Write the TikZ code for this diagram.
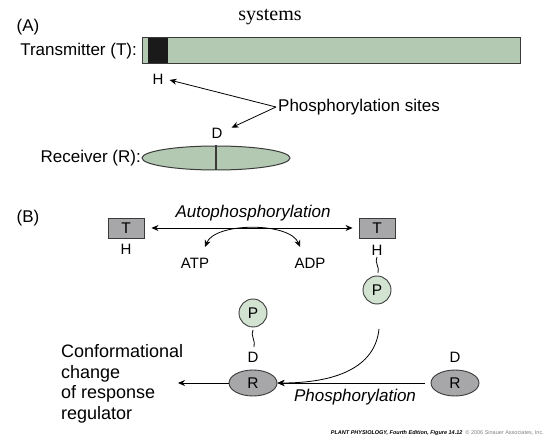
\documentclass[tikz,border=0pt]{standalone}
\usepackage{fontspec}
\setmainfont{Liberation Serif}
\setsansfont{Liberation Sans}
\usetikzlibrary{arrows.meta,shapes.geometric}
\definecolor{barfill}{HTML}{B3C9B2}
\definecolor{pgreen}{HTML}{D2E3D1}
\definecolor{tgray}{HTML}{A7A7A9}
\definecolor{edge}{HTML}{3A3A3A}
\definecolor{darkdom}{HTML}{1A1A1A}
\begin{document}
\begin{tikzpicture}[x=1pt,y=-1pt,
  >={Stealth[length=7pt,width=6pt]},
  lbl/.style={font=\sffamily\fontsize{17}{20}\selectfont, inner sep=0pt},
  small/.style={font=\sffamily\fontsize{15}{17}\selectfont, inner sep=0pt},
  ital/.style={font=\sffamily\itshape\fontsize{17}{20}\selectfont, inner sep=0pt},
  tbox/.style={draw=edge, fill=tgray, minimum width=36pt, minimum height=20pt, inner sep=0pt, line width=0.9pt, font=\sffamily\fontsize{15.5}{17}\selectfont},
  rell/.style={ellipse, draw=edge, fill=tgray, minimum width=48pt, minimum height=26pt, inner sep=0pt, line width=0.9pt, font=\sffamily\fontsize{15.5}{17}\selectfont},
  pcirc/.style={circle, draw=edge, fill=pgreen, minimum size=28pt, inner sep=0pt, line width=0.9pt, font=\sffamily\fontsize{15.5}{17}\selectfont},
  conn/.style={line width=0.8pt, black},
  squig/.style={line width=0.8pt, black},
]
\useasboundingbox (0,0) rectangle (560,446);

% ---------- (A) ----------
\node[font=\rmfamily\fontsize{20}{22}\selectfont, inner sep=0pt] (title) at (270,17) {systems};
\node[lbl] (labA) at (28,27) {(A)};
\node[lbl, anchor=east] (tlab) at (137,51) {Transmitter (T):};
\node[fill=barfill, minimum width=378pt, minimum height=25pt, inner sep=0pt, anchor=north west] (bar) at (142,38) {};
\node[fill=darkdom, minimum width=20pt, minimum height=25pt, inner sep=0pt, anchor=north west] (hdom) at (148,38) {};
\draw[edge, line width=1pt] (bar.north west) rectangle (bar.south east);
\node[small] (H1) at (158,79) {H};
\node[lbl, anchor=west] (sites) at (278,107) {Phosphorylation sites};
\coordinate (junc) at (276,107);
\node[small] (D1) at (217,133) {D};
\draw[conn,->] (junc) -- ([xshift=6pt,yshift=-1pt]H1.east);
\draw[conn,->] (junc) -- ([xshift=9pt]D1.north east);
\node[lbl, anchor=east] (rlab) at (141,158) {Receiver (R):};
\node[ellipse, draw=edge, fill=barfill, minimum width=148pt, minimum height=24pt, inner sep=0pt, line width=1pt] (rec) at (216,158) {};
\draw[edge, line width=1.2pt] (rec.north) -- (rec.south);

% ---------- (B) ----------
\node[lbl] (labB) at (28,218) {(B)};
\node[tbox] (T1) at (126,228) {T};
\node[tbox] (T2) at (377,228) {T};
\draw[conn,<->, shorten <=7pt, shorten >=6pt] (T1.east) -- (T2.west);
\node[ital] (auto) at (253,213) {Autophosphorylation};
\node[small] (H2) at (126,249) {H};
\node[small] (H3) at (377,250) {H};
\node[small] (ATP) at (195,263) {ATP};
\node[small] (ADP) at (310,263) {ADP};
\coordinate (ca) at (205,247);
\coordinate (cb) at (300,247);
\draw[conn,<->] (ca) .. controls (215,222) and (290,222) .. (cb);
\node[pcirc] (P2) at (377,290) {P};
\coordinate (s1) at (377,257);
\coordinate (s2) at (378,273);
\draw[squig] (s1) .. controls (374,262) and (380,267) .. (s2);

\node[pcirc] (P1) at (253,313) {P};
\coordinate (s3) at (253,330);
\coordinate (s4) at (254,347);
\draw[squig] (s3) .. controls (250,335) and (256,341) .. (s4);
\node[small] (D2) at (253,357) {D};
\node[rell] (R1) at (253,383) {R};
\node[small] (D3) at (455,357) {D};
\node[rell] (R2) at (455,383) {R};
\coordinate (cc) at (178,383);
\draw[conn,->] (R1.west) -- (cc);
\node[font=\sffamily\fontsize{18}{20.6}\selectfont, inner sep=0pt, align=left, anchor=west] (conf) at (61,384) {Conformational\\change\\of response\\regulator};
\draw[conn,->, shorten <=6pt] (R2.west) -- (R1.east);
\coordinate (cstart) at (379,329);
\draw[conn,->] (cstart) .. controls (375,368) and (335,383) .. (R1.east);
\node[ital] (phos) at (355,397) {Phosphorylation};

\node[inner sep=0pt, anchor=east, font=\sffamily\fontsize{5.5}{6}\selectfont] (foot) at (544,433) {\textbf{\textit{PLANT PHYSIOLOGY, Fourth Edition, Figure 14.12}}\ \ \textcolor{gray}{\copyright\ 2006 Sinauer Associates, Inc.}};
\end{tikzpicture}
\end{document}
